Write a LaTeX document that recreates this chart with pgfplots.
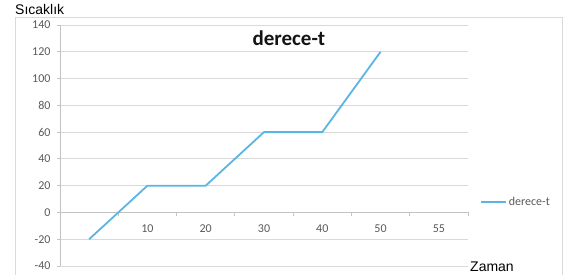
\documentclass[border=0pt]{standalone}
\usepackage{fontspec}
\setmainfont{Carlito}
\newfontfamily\arialf{Liberation Sans}
\usepackage{pgfplots}
\pgfplotsset{compat=1.18}
\definecolor{linecol}{RGB}{91,181,228}
\definecolor{gridc}{RGB}{217,217,217}
\definecolor{axc}{RGB}{195,195,195}
\definecolor{tickc}{RGB}{89,89,89}
\begin{document}
\begin{tikzpicture}[x=1pt,y=1pt]
\path[use as bounding box] (0,0) rectangle (583,275);
\draw[gridc, line width=0.8pt] (15,-2) -- (15,258) -- (562,258) -- (562,-2);
\node[anchor=west, inner sep=0, font=\arialf\fontsize{14}{16}\selectfont] at (15,265) {Sıcaklık};
\node[anchor=west, inner sep=0, font=\arialf\fontsize{14}{16}\selectfont] at (470,8) {Zaman};
\begin{axis}[
  at={(60pt,9pt)}, anchor=south west,
  scale only axis, width=408pt, height=241pt,
  xmin=-0.5, xmax=6.5, ymin=-40, ymax=140,
  axis x line*=middle, axis y line*=left,
  hide obscured x ticks=false, hide obscured y ticks=false,
  /pgf/number format/assume math mode=true,
  xtick={0,...,6}, xticklabels={,10,20,30,40,50,55},
  minor xtick={-0.5,0.5,...,6.5},
  ytick={-40,-20,...,140},
  ymajorgrids, major grid style={gridc, line width=0.8pt},
  axis line style={axc, line width=0.8pt},
  tick style={axc, line width=0.8pt},
  tick align=outside, major tick length=3pt, minor tick length=4pt,
  major x tick style={draw=none},
  ticklabel style={font=\fontsize{12}{14}\selectfont, text=tickc},
  xticklabel style={yshift=-6pt},
  yticklabel style={xshift=-3pt},
  title={derece-t},
  title style={at={(0.561,0.921)}, anchor=center, font=\bfseries\fontsize{21}{24}\selectfont, text=black!92},
  legend style={at={(1.029,0.2656)}, anchor=west, draw=none, fill=none, inner sep=0pt,
    font=\fontsize{12}{14}\selectfont, text=tickc},
  legend image code/.code={\draw[#1] (0pt,0pt) -- (25pt,0pt);},
]
\addplot[linecol, line width=1.8pt] coordinates {(0,-20)(1,20)(2,20)(3,60)(4,60)(5,120)};
\addlegendentry{derece-t}
\end{axis}
\end{tikzpicture}
\end{document}
